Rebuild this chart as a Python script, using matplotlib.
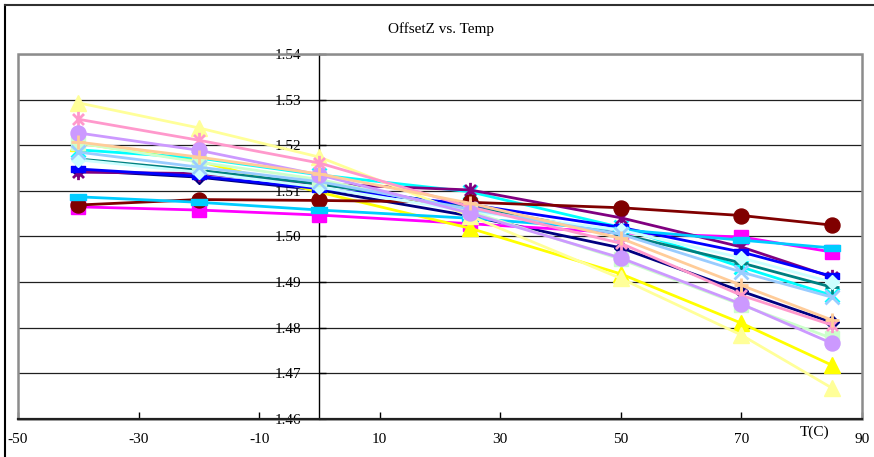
import matplotlib
matplotlib.use('Agg')
import matplotlib.pyplot as plt
from matplotlib.path import Path
from matplotlib.patches import Rectangle
from matplotlib.lines import Line2D

# ---------------- data ----------------
temps = [-40, -20, 0, 25, 50, 70, 85]

s01_navy      = [1.5145, 1.5130, 1.5102, 1.5045, 1.4975, 1.4880, 1.4812]
s02_magenta   = [1.5065, 1.5058, 1.5047, 1.5028, 1.5008, 1.4999, 1.4966]
s03_yellow    = [1.5205, 1.5165, 1.5097, 1.5018, 1.4918, 1.4810, 1.4718]
s04_cyan      = [1.5190, 1.5172, 1.5135, 1.5098, 1.5020, 1.4933, 1.4871]
s05_purple    = [1.5141, 1.5138, 1.5115, 1.5102, 1.5041, 1.4977, 1.4911]
s06_maroon    = [1.5069, 1.5081, 1.5079, 1.5075, 1.5063, 1.5046, 1.5025]
s07_teal      = [1.5170, 1.5145, 1.5115, 1.5065, 1.5005, 1.4942, 1.4889]
s08_blue      = [1.5148, 1.5132, 1.5105, 1.5070, 1.5020, 1.4966, 1.4913]
s09_skyblue   = [1.5087, 1.5075, 1.5058, 1.5040, 1.5015, 1.4992, 1.4975]
s10_turquoise = [1.5168, 1.5141, 1.5108, 1.5055, 1.5014, 1.4953, 1.4900]
s11_ltgreen   = [1.5205, 1.5163, 1.5125, 1.5055, 1.4950, 1.4850, 1.4777]
s12_ltyellow  = [1.5293, 1.5238, 1.5174, 1.5045, 1.4908, 1.4784, 1.4668]
s13_paleblue  = [1.5185, 1.5152, 1.5120, 1.5060, 1.5005, 1.4922, 1.4867]
s14_rose      = [1.5257, 1.5211, 1.5161, 1.5065, 1.4985, 1.4871, 1.4806]
s15_lavender  = [1.5227, 1.5189, 1.5135, 1.5051, 1.4953, 1.4852, 1.4766]
s16_tan       = [1.5207, 1.5174, 1.5137, 1.5073, 1.4996, 1.4893, 1.4817]

x_ticks = [-50, -30, -10, 10, 30, 50, 70, 90]
y_ticks = [1.46, 1.47, 1.48, 1.49, 1.50, 1.51, 1.52, 1.53, 1.54]
title = "OffsetZ vs. Temp"
x_label = "T(C)"

# ---------------- styles ----------------
star = Path([(0, -1), (0, 1), (-0.72, -0.72), (0.72, 0.72), (-0.72, 0.72), (0.72, -0.72)],
            [Path.MOVETO, Path.LINETO, Path.MOVETO, Path.LINETO, Path.MOVETO, Path.LINETO])
dash = Path([(-1, -0.38), (1, -0.38), (1, 0.38), (-1, 0.38), (-1, -0.38)],
            [Path.MOVETO, Path.LINETO, Path.LINETO, Path.LINETO, Path.CLOSEPOLY])
longdash = Path([(-1, -0.33), (1, -0.33), (1, 0.33), (-1, 0.33), (-1, -0.33)],
                [Path.MOVETO, Path.LINETO, Path.LINETO, Path.LINETO, Path.CLOSEPOLY])

series = [
    (s01_navy,      '#000080', 'D',      7.3, False),
    (s02_magenta,   '#FF00FF', 's',      10.5, False),
    (s03_yellow,    '#FFFF00', '^',      11, False),
    (s04_cyan,      '#00FFFF', 'x',      10.5, True),
    (s05_purple,    '#800080', star,     11, True),
    (s06_maroon,    '#800000', 'o',      10.8, False),
    (s07_teal,      '#008080', '+',      10, True),
    (s08_blue,      '#0000FF', dash,     9.5, False),
    (s09_skyblue,   '#00CCFF', longdash, 12, False),
    (s10_turquoise, '#CCFFFF', 'D',      7.3, False),
    (s11_ltgreen,   '#CCFFCC', 's',      10.5, False),
    (s12_ltyellow,  '#FFFF99', '^',      11, False),
    (s13_paleblue,  '#99CCFF', 'x',      10.5, True),
    (s14_rose,      '#FF99CC', star,     11, True),
    (s15_lavender,  '#CC99FF', 'o',      10.8, False),
    (s16_tan,       '#FFCC99', '+',      10, True),
]

plt.rcParams['font.family'] = ['Liberation Serif', 'DejaVu Serif']

W, H = 874, 457
fig = plt.figure(figsize=(W / 100, H / 100), dpi=100)
fig.patch.set_facecolor('white')

left, right, top, bottom = 18, 862, 54, 419
ax = fig.add_axes([left / W, 1 - bottom / H, (right - left) / W, (bottom - top) / H])
ax.set_xlim(-50, 90)
ax.set_ylim(1.46, 1.54)

# gridlines
for yv in y_ticks:
    ax.axhline(yv, color='#202020', lw=0.9, zorder=1)

for i, (vals, col, mk, ms, open_mk) in enumerate(series):
    kw = dict(color=col, lw=2.0, marker=mk, markersize=ms, markeredgecolor=col,
              zorder=3 + i * 0.01, clip_on=False)
    if open_mk:
        kw.update(markerfacecolor='none', markeredgewidth=2.0)
    else:
        kw.update(markerfacecolor=col, markeredgewidth=1.0)
    ax.plot(temps, vals, **kw)

# spines
for s in ['top', 'right']:
    ax.spines[s].set_visible(False)
ax.spines['left'].set_position(('data', 0))
ax.spines['left'].set_color('black')
ax.spines['left'].set_linewidth(1.0)
ax.spines['left'].set_zorder(2)
ax.spines['bottom'].set_color('#202020')
ax.spines['bottom'].set_linewidth(1.6)
ax.spines['bottom'].set_zorder(2.5)

# plot-area border (gray)
ax.add_patch(Rectangle((0, 0), 1, 1, transform=ax.transAxes, fill=False,
                       edgecolor='#8c8c8c', lw=1.8, zorder=2.2, clip_on=False))

ax.set_xticks(x_ticks)
ax.set_xticklabels([str(v) for v in x_ticks])
ax.set_yticks(y_ticks)
ax.set_yticklabels([f"{v:.2f}" for v in y_ticks])
ax.tick_params(axis='x', direction='in', length=5, width=1.0, pad=10, labelsize=11, colors='black')
ax.tick_params(axis='y', direction='in', length=5, width=1.0, pad=13, labelsize=11, colors='black')
for lbl in ax.get_yticklabels():
    lbl.set_zorder(0.5)

fig.text(441 / W, 1 - 29 / H, title, ha='center', va='center', fontsize=11)
fig.text(815 / W, 1 - 432 / H, x_label, ha='center', va='center', fontsize=11)

# outer chart border (left and top visible)
fig.add_artist(Line2D([5 / W, 5 / W], [0, 1 - 5 / H], transform=fig.transFigure,
                      color='black', lw=1.5))
fig.add_artist(Line2D([5 / W, 1], [1 - 5 / H, 1 - 5 / H], transform=fig.transFigure,
                      color='#303030', lw=1.5))

fig.savefig('out.png', dpi=100, facecolor='white')
